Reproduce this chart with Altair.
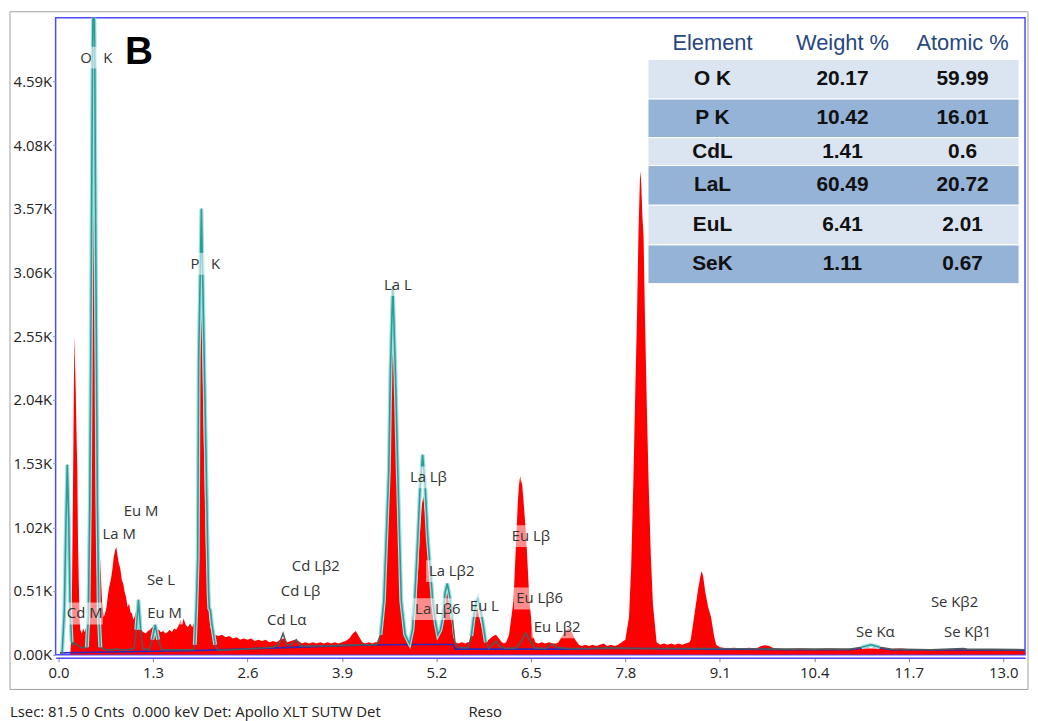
import altair as alt
import pandas as pd

# ---------------- data (keV, kilo-counts) ----------------
spec_points = [
    (0.16, 0.0), (0.17, 0.08), (0.185, 0.5), (0.20, 1.4), (0.212, 2.2), (0.22, 2.56), (0.228, 2.3),
    (0.236, 2.13), (0.25, 1.7), (0.258, 1.5), (0.268, 0.9), (0.28, 0.55), (0.29, 0.28), (0.30, 0.2),
    (0.32, 0.17), (0.34, 0.21), (0.36, 0.18), (0.38, 0.22), (0.395, 0.35), (0.41, 0.8), (0.425, 1.3),
    (0.44, 1.9), (0.455, 3.0), (0.468, 3.9), (0.478, 4.30), (0.488, 3.7), (0.50, 2.5), (0.515, 1.2),
    (0.53, 0.6), (0.545, 0.5), (0.56, 0.66), (0.572, 0.77), (0.585, 0.6), (0.60, 0.42), (0.62, 0.3),
    (0.64, 0.33), (0.66, 0.38), (0.68, 0.48), (0.70, 0.55), (0.72, 0.6), (0.74, 0.68), (0.76, 0.78),
    (0.78, 0.84), (0.795, 0.86), (0.81, 0.8), (0.83, 0.73), (0.85, 0.69), (0.87, 0.6), (0.89, 0.57),
    (0.91, 0.5), (0.93, 0.46), (0.95, 0.38), (0.97, 0.41), (0.99, 0.34), (1.01, 0.33), (1.03, 0.28),
    (1.05, 0.31), (1.07, 0.35), (1.09, 0.31), (1.11, 0.27), (1.13, 0.21), (1.15, 0.19), (1.17, 0.18),
    (1.20, 0.17), (1.23, 0.19), (1.26, 0.2), (1.29, 0.22), (1.32, 0.24), (1.35, 0.21), (1.38, 0.2),
    (1.41, 0.18), (1.44, 0.19), (1.47, 0.17), (1.50, 0.18), (1.53, 0.2), (1.56, 0.18), (1.59, 0.21),
    (1.62, 0.2), (1.65, 0.23), (1.68, 0.28), (1.70, 0.24), (1.72, 0.29), (1.75, 0.24), (1.78, 0.22),
    (1.81, 0.25), (1.84, 0.22), (1.87, 0.26), (1.90, 0.45), (1.92, 0.9), (1.94, 2.0), (1.955, 2.85),
    (1.962, 2.99), (1.975, 2.6), (2.0, 1.7), (2.03, 0.8), (2.06, 0.4), (2.09, 0.22), (2.12, 0.17),
    (2.15, 0.16), (2.2, 0.15), (2.25, 0.16), (2.3, 0.14), (2.35, 0.15), (2.4, 0.13), (2.45, 0.14),
    (2.5, 0.12), (2.55, 0.13), (2.6, 0.12), (2.65, 0.13), (2.7, 0.11), (2.75, 0.12), (2.8, 0.11),
    (2.85, 0.12), (2.9, 0.1), (2.95, 0.11), (3.0, 0.1), (3.05, 0.12), (3.1, 0.13), (3.15, 0.1),
    (3.2, 0.11), (3.25, 0.12), (3.3, 0.11), (3.35, 0.09), (3.4, 0.1), (3.45, 0.09), (3.5, 0.1),
    (3.55, 0.09), (3.6, 0.1), (3.65, 0.09), (3.7, 0.1), (3.75, 0.09), (3.8, 0.1), (3.85, 0.09),
    (3.9, 0.1), (3.95, 0.11), (4.0, 0.13), (4.05, 0.17), (4.09, 0.19), (4.13, 0.15), (4.18, 0.1),
    (4.22, 0.09), (4.27, 0.1), (4.32, 0.09), (4.36, 0.1), (4.40, 0.1), (4.44, 0.18), (4.48, 0.45),
    (4.545, 1.45), (4.57, 2.25), (4.595, 2.85), (4.605, 2.91), (4.63, 2.3), (4.665, 1.45),
    (4.715, 0.42), (4.77, 0.15), (4.83, 0.11), (4.86, 0.15), (4.92, 0.43), (4.95, 0.7), (4.97, 0.95),
    (5.0, 1.2), (5.02, 1.27), (5.04, 1.15), (5.08, 0.95), (5.11, 0.6), (5.14, 0.5), (5.18, 0.43),
    (5.20, 0.3), (5.22, 0.17), (5.26, 0.25), (5.30, 0.45), (5.35, 0.55), (5.39, 0.38), (5.43, 0.14),
    (5.46, 0.1), (5.5, 0.09), (5.55, 0.1), (5.6, 0.09), (5.63, 0.1), (5.66, 0.1), (5.70, 0.25),
    (5.74, 0.35), (5.76, 0.38), (5.79, 0.3), (5.84, 0.18), (5.88, 0.1), (5.92, 0.12), (5.98, 0.15),
    (6.02, 0.16), (6.06, 0.13), (6.1, 0.1), (6.13, 0.09), (6.16, 0.1), (6.20, 0.16), (6.26, 0.43),
    (6.30, 0.95), (6.32, 1.22), (6.335, 1.35), (6.345, 1.40), (6.355, 1.43), (6.365, 1.36),
    (6.375, 1.4), (6.40, 1.22), (6.435, 0.95), (6.48, 0.43), (6.525, 0.16), (6.56, 0.1), (6.6, 0.09),
    (6.65, 0.1), (6.7, 0.09), (6.75, 0.1), (6.8, 0.09), (6.85, 0.09), (6.88, 0.1), (6.93, 0.15),
    (6.98, 0.19), (7.02, 0.21), (7.06, 0.18), (7.11, 0.12), (7.16, 0.08), (7.2, 0.07), (7.25, 0.08),
    (7.3, 0.07), (7.35, 0.08), (7.4, 0.07), (7.45, 0.08), (7.5, 0.09), (7.55, 0.07), (7.6, 0.08),
    (7.65, 0.07), (7.7, 0.08), (7.75, 0.1), (7.80, 0.12), (7.85, 0.3), (7.88, 0.7), (7.91, 1.38),
    (7.94, 2.2), (7.96, 2.7), (7.98, 3.36), (8.0, 3.8), (8.01, 3.87), (8.02, 3.75), (8.035, 3.5),
    (8.05, 3.36), (8.07, 2.7), (8.095, 2.0), (8.12, 1.38), (8.15, 0.8), (8.18, 0.4), (8.23, 0.1),
    (8.28, 0.08), (8.33, 0.09), (8.38, 0.08), (8.43, 0.09), (8.48, 0.08), (8.53, 0.09), (8.58, 0.08),
    (8.63, 0.09), (8.68, 0.1), (8.70, 0.12), (8.75, 0.32), (8.80, 0.52), (8.83, 0.62), (8.85, 0.67),
    (8.87, 0.63), (8.90, 0.5), (8.94, 0.38), (8.98, 0.3), (9.02, 0.15), (9.05, 0.08), (9.1, 0.06),
    (9.2, 0.05), (9.3, 0.055), (9.4, 0.05), (9.5, 0.055), (9.6, 0.05), (9.67, 0.07), (9.72, 0.075),
    (9.78, 0.07), (9.85, 0.05), (10.0, 0.045), (10.2, 0.05), (10.4, 0.045), (10.6, 0.05),
    (10.8, 0.045), (11.0, 0.05), (11.2, 0.05), (11.4, 0.045), (11.6, 0.05), (11.8, 0.04),
    (12.0, 0.045), (12.2, 0.04), (12.4, 0.045), (12.6, 0.04), (12.8, 0.045), (13.0, 0.04),
    (13.2, 0.045), (13.3, 0.04),
]

fit_points = [
    (0.02, 0.015), (0.05, 0.02), (0.08, 0.35), (0.10, 1.0), (0.12, 1.52), (0.14, 1.1), (0.16, 0.35),
    (0.18, 0.1), (0.20, 0.08), (0.22, 0.095), (0.25, 0.08), (0.30, 0.06), (0.35, 0.055), (0.39, 0.06),
    (0.41, 0.3), (0.43, 1.2), (0.45, 3.0), (0.468, 4.8), (0.483, 5.6), (0.498, 4.8), (0.515, 3.0),
    (0.535, 1.2), (0.555, 0.3), (0.575, 0.06), (0.65, 0.04), (0.75, 0.04), (0.80, 0.05), (0.85, 0.04),
    (0.95, 0.04), (1.04, 0.05), (1.07, 0.2), (1.10, 0.44), (1.13, 0.2), (1.16, 0.05), (1.25, 0.04),
    (1.29, 0.12), (1.33, 0.24), (1.37, 0.12), (1.42, 0.04), (1.6, 0.04), (1.8, 0.04), (1.86, 0.04),
    (1.875, 0.08), (1.895, 0.37), (1.915, 0.77), (1.928, 2.36), (1.966, 3.57), (2.005, 2.36),
    (2.055, 0.77), (2.065, 0.5), (2.075, 0.37), (2.09, 0.36), (2.11, 0.25), (2.155, 0.08),
    (2.19, 0.035), (2.4, 0.04), (2.7, 0.05), (2.95, 0.06), (3.03, 0.08), (3.09, 0.17), (3.14, 0.08),
    (3.2, 0.08), (3.27, 0.12), (3.33, 0.07), (3.6, 0.07), (3.9, 0.075), (4.2, 0.08), (4.38, 0.08),
    (4.43, 0.16), (4.476, 0.43), (4.545, 1.48), (4.567, 2.28), (4.60, 2.95), (4.635, 2.28),
    (4.668, 1.48), (4.717, 0.43), (4.77, 0.16), (4.83, 0.09), (4.87, 0.2), (4.90, 0.43), (4.945, 0.95),
    (4.976, 1.35), (5.01, 1.60), (5.045, 1.35), (5.08, 0.95), (5.15, 0.43), (5.19, 0.25), (5.22, 0.16),
    (5.255, 0.2), (5.286, 0.29), (5.32, 0.5), (5.35, 0.57), (5.38, 0.48), (5.42, 0.29), (5.455, 0.095),
    (5.5, 0.06), (5.6, 0.055), (5.64, 0.06), (5.68, 0.15), (5.71, 0.29), (5.75, 0.43), (5.77, 0.45),
    (5.80, 0.38), (5.83, 0.29), (5.88, 0.1), (5.92, 0.05), (5.97, 0.08), (6.02, 0.11), (6.07, 0.07),
    (6.15, 0.05), (6.30, 0.055), (6.36, 0.1), (6.43, 0.175), (6.49, 0.11), (6.55, 0.055), (6.70, 0.05),
    (6.76, 0.075), (6.80, 0.085), (6.85, 0.06), (7.0, 0.05), (7.3, 0.05), (7.6, 0.055), (8.0, 0.05),
    (9.0, 0.05), (10.0, 0.045), (10.9, 0.045), (11.05, 0.06), (11.18, 0.08), (11.3, 0.06),
    (11.45, 0.045), (12.0, 0.04), (12.45, 0.05), (12.5, 0.045), (13.3, 0.04),
]

# keV windows in which the fitted curve is drawn in teal (elsewhere it shows grey)
teal_windows = [(0.03, 0.19), (0.385, 0.58), (1.05, 1.15), (1.27, 1.40), (1.87, 2.16),
                (3.05, 3.13), (3.24, 3.31), (4.40, 5.44), (5.66, 5.90), (10.95, 11.4)]

bg_points = [
    (0.02, 0.015), (0.5, 0.02), (1.0, 0.025), (1.5, 0.03), (2.0, 0.035), (2.5, 0.045), (3.0, 0.055),
    (3.5, 0.065), (4.0, 0.075), (4.5, 0.08), (5.0, 0.082), (5.43, 0.082), (5.46, 0.045), (6.0, 0.045),
    (7.0, 0.045), (7.5, 0.05), (8.0, 0.05), (9.0, 0.045), (10.0, 0.04), (10.9, 0.04), (11.05, 0.055),
    (11.18, 0.07), (11.3, 0.055), (11.45, 0.04), (13.3, 0.035),
]

NB = "\u00a0"
label_text = ["O" + NB * 3 + "K", "P" + NB * 3 + "K", "La L", "La Lβ", "La Lβ2", "La Lβ6", "Eu L",
              "Eu Lβ", "Eu Lβ6", "Eu Lβ2", "Cd M", "La M", "Eu M", "Se L", "Eu M", "Cd Lβ2",
              "Cd Lβ", "Cd Lα", "Se Kα", "Se Kβ2", "Se Kβ1"]
label_kev = [0.52, 2.02, 4.67, 5.09, 5.41, 5.22, 5.86, 6.50, 6.62, 6.86, 0.36, 0.835, 1.135,
             1.41, 1.46, 3.54, 3.33, 3.14, 11.24, 12.33, 12.51]
label_cnt = [4.78, 3.13, 2.96, 1.42, 0.67, 0.365, 0.39, 0.95, 0.45, 0.22, 0.33, 0.97, 1.15,
             0.595, 0.33, 0.71, 0.51, 0.28, 0.18, 0.42, 0.18]

table_headers = ["Element", "Weight %", "Atomic %"]
table_element = ["O K", "P K", "CdL", "LaL", "EuL", "SeK"]
table_weight = ["20.17", "10.42", "1.41", "60.49", "6.41", "1.11"]
table_atomic = ["59.99", "16.01", "0.6", "20.72", "2.01", "0.67"]

x_ticks = [0.0, 1.3, 2.6, 3.9, 5.2, 6.5, 7.8, 9.1, 10.4, 11.7, 13.0]
y_ticks = [0.0, 0.51, 1.02, 1.53, 2.04, 2.55, 3.06, 3.57, 4.08, 4.59]

footer_left = "Lsec: 81.5 0 Cnts" + NB * 2 + "0.000 keV Det: Apollo XLT SUTW Det"
footer_right = "Reso"
panel_letter = "B"

# ---------------- tables for the library ----------------
spec_df = pd.DataFrame(spec_points, columns=["kev", "cnt"])
fit_df = pd.DataFrame(fit_points, columns=["kev", "cnt"])


def window_of(k):
    for i, (a, b) in enumerate(teal_windows):
        if a <= k <= b:
            return i + 1
    return 0


fit_df["win"] = [window_of(k) for k in fit_df["kev"]]
teal_df = fit_df[fit_df["win"] > 0]
bg_df = pd.DataFrame(bg_points, columns=["kev", "cnt"])
lab_df = pd.DataFrame({"label": label_text, "kev": label_kev, "cnt": label_cnt})
tab_df = pd.DataFrame({"element": table_element, "weight": table_weight,
                       "atomic": table_atomic, "row": list(range(len(table_element)))})
hdr_df = pd.DataFrame({"h0": [table_headers[0]], "h1": [table_headers[1]], "h2": [table_headers[2]]})
one_df = pd.DataFrame({"a": [0]})

W, H = 977, 642
XMIN, XMAX = -0.04, 13.3
YMAX = 5.1
PX_PER_KEV = W / (XMAX - XMIN)
PX_PER_K = H / YMAX
BLUE = "#4a4aff"

xs = alt.Scale(domain=[XMIN, XMAX], nice=False, zero=False)
ys = alt.Scale(domain=[0, YMAX], nice=False, zero=True)

x_axis = alt.Axis(values=x_ticks, format=".1f", title=None, grid=False, domain=True, domainColor=BLUE,
                  domainWidth=1.5, offset=3, labelFontSize=15, labelColor="#222", labelFont="Open Sans",
                  tickColor="#888", tickSize=4, labelPadding=4, labelFlush=False)
y_axis = alt.Axis(values=y_ticks, labelExpr="format(datum.value, '.2f') + 'K'", title=None, grid=False,
                  domain=False, labelFontSize=15, labelColor="#222", labelFont="Open Sans",
                  tickColor="#888", tickSize=3, labelPadding=1)


def X(field="kev"):
    return alt.X(f"{field}:Q", scale=xs, axis=x_axis, title=None)


def Y(field="cnt"):
    return alt.Y(f"{field}:Q", scale=ys, axis=y_axis, title=None)


red = alt.Chart(spec_df).mark_area(color="#ff0000", clip=True, interpolate="linear").encode(x=X(), y=Y())

bgline = alt.Chart(bg_df).mark_line(color="#2b2bb8", strokeWidth=1.6, clip=True).encode(x=X(), y=Y())

greyline = alt.Chart(fit_df).mark_line(color="#4f5b5b", strokeWidth=1.6, clip=True).encode(x=X(), y=Y())

teal_halo = alt.Chart(teal_df).mark_line(color="#a6dede", strokeWidth=4, clip=True).encode(
    x=X(), y=Y(), detail="win:N")
teal_line = alt.Chart(teal_df).mark_line(color="#2a9c9c", strokeWidth=1.6, clip=True).encode(
    x=X(), y=Y(), detail="win:N")

boxes = alt.Chart(lab_df).transform_calculate(
    x1=f"datum.kev - (length(datum.label) * 7.6 + 6) / 2 / {PX_PER_KEV}",
    x2=f"datum.kev + (length(datum.label) * 7.6 + 6) / 2 / {PX_PER_KEV}",
    y1=f"datum.cnt - 11 / {PX_PER_K}",
    y2=f"datum.cnt + 11 / {PX_PER_K}",
).mark_rect(color="#ffffff", opacity=0.55, clip=True).encode(
    x=X("x1"), x2="x2:Q", y=Y("y1"), y2="y2:Q")

labels = alt.Chart(lab_df).mark_text(font="Open Sans", fontSize=15, color="#333333",
                                     align="center", baseline="middle").encode(
    x=X(), y=Y(), text="label:N")

letter = alt.Chart(one_df).mark_text(text=panel_letter, font="Liberation Sans", fontWeight="bold",
                                     fontSize=39, color="#000000", align="center",
                                     baseline="middle").encode(x=alt.value(84), y=alt.value(35))

spectrum = alt.layer(red, bgline, greyline, teal_halo, teal_line, boxes, labels, letter)

# ---- element table (top right) ----
tscale = alt.Scale(domain=[0, 1, 2, 3, 4, 5, 6], range=[42, 82, 121, 149, 189, 229, 268])
rows = alt.Chart(tab_df).transform_calculate(r2="datum.row + 1").mark_rect(
    stroke="#ffffff", strokeWidth=1).encode(
    x=alt.value(597), x2=alt.value(971),
    y=alt.Y("row:Q", scale=tscale, axis=None), y2="r2:Q",
    color=alt.condition("datum.row % 2 == 0", alt.value("#dbe5f1"), alt.value("#95b3d7")))

mid = alt.Chart(tab_df).transform_calculate(m="datum.row + 0.5")
cell_style = dict(font="Liberation Sans", fontWeight="bold", fontSize=21, color="#111111",
                  align="center", baseline="middle")
col_el = mid.mark_text(**cell_style).encode(x=alt.value(662), y=alt.Y("m:Q", scale=tscale, axis=None),
                                            text="element:N")
col_w = mid.mark_text(**cell_style).encode(x=alt.value(793), y=alt.Y("m:Q", scale=tscale, axis=None),
                                           text="weight:N")
col_a = mid.mark_text(**cell_style).encode(x=alt.value(914), y=alt.Y("m:Q", scale=tscale, axis=None),
                                           text="atomic:N")
hdr_style = dict(font="Liberation Sans", fontSize=22, color="#26477f", align="center", baseline="middle")
h0 = alt.Chart(hdr_df).mark_text(**hdr_style).encode(x=alt.value(662), y=alt.value(26), text="h0:N")
h1 = alt.Chart(hdr_df).mark_text(**hdr_style).encode(x=alt.value(793), y=alt.value(26), text="h1:N")
h2 = alt.Chart(hdr_df).mark_text(**hdr_style).encode(x=alt.value(914), y=alt.value(26), text="h2:N")

table = alt.layer(rows, col_el, col_w, col_a, h0, h1, h2)

# ---- outer grey frame and footer text ----
frame = alt.Chart(one_df).mark_rect(fill=None, stroke="#a0a0a0", strokeWidth=1).encode(
    x=alt.value(-46), x2=alt.value(980), y=alt.value(-6), y2=alt.value(677))
foot1 = alt.Chart(one_df).mark_text(text=footer_left, font="Open Sans", fontSize=15, color="#222",
                                    align="left", baseline="middle").encode(
    x=alt.value(-46), y=alt.value(700))
foot2 = alt.Chart(one_df).mark_text(text=footer_right, font="Open Sans", fontSize=15, color="#222",
                                    align="left", baseline="middle").encode(
    x=alt.value(416), y=alt.value(700))

chart = alt.layer(spectrum, table, frame, foot1, foot2).resolve_scale(y="independent").properties(
    width=W, height=H,
    autosize=alt.AutoSizeParams(type="none"),
    padding={"left": 48, "top": 7, "right": 5, "bottom": 64},
).configure_view(stroke=BLUE, strokeWidth=1.5)

chart.save("out.html", embed_options={"renderer": "svg", "actions": False})
